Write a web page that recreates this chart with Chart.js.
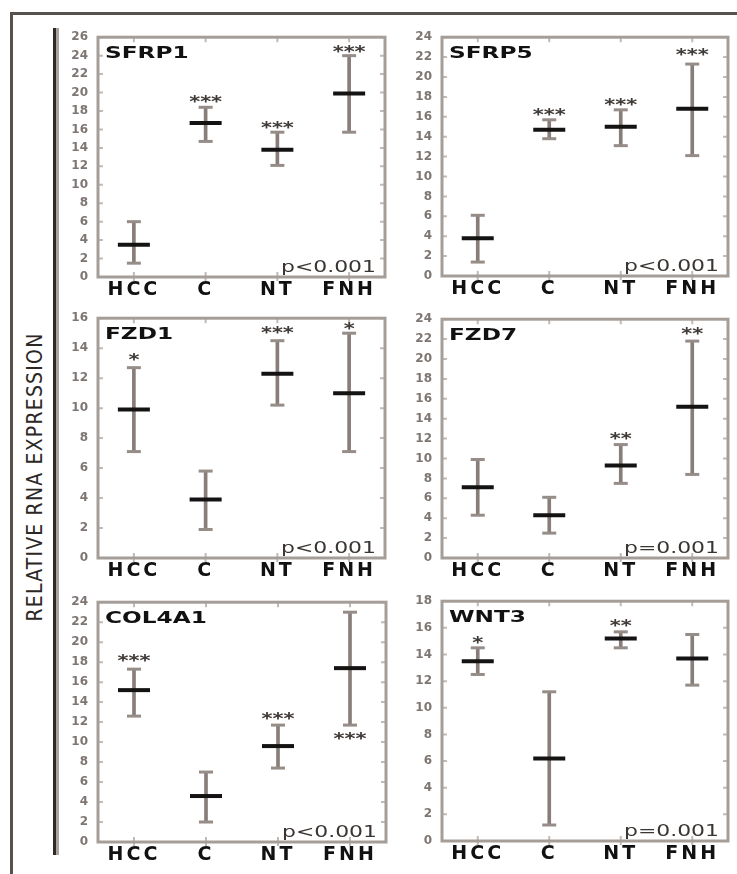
<!DOCTYPE html>
<html>
<head>
<meta charset="utf-8">
<script src="https://cdn.jsdelivr.net/npm/chart.js@4"></script>
<style>
  body { margin: 0; background: #fff; }
  #page { position: relative; width: 737px; height: 874px; overflow: hidden; background: #fff; }
  #page canvas { position: absolute; }
  .rule { position: absolute; background: #58524e; }
  #ylabel {
    position: absolute; left: 35px; top: 477px;
    transform: translate(-50%, -50%) rotate(-90deg);
    white-space: nowrap; font: 21px "DejaVu Sans Condensed", "DejaVu Sans", sans-serif;
    letter-spacing: 1.2px; color: #2c2826;
  }
</style>
</head>
<body>
<div id="page">
  <div class="rule" style="left:10px;top:12px;width:727px;height:3px"></div>
  <div class="rule" style="left:10px;top:12px;width:3px;height:862px"></div>
  <div class="rule" style="left:53px;top:28px;width:3px;height:827px;background:#2e2a28"></div>
  <div class="rule" style="left:56px;top:28px;width:3px;height:827px;background:#aaa29d"></div>
  <div id="ylabel">RELATIVE RNA EXPRESSION</div>
</div>
<script>
// groepen op de x-as
const groups = ['HCC', 'C', 'NT', 'FNH'];

// SFRP1
const sfrp1Mean = [3.5, 16.7, 13.8, 19.9];
const sfrp1Low = [1.5, 14.7, 12.1, 15.7];
const sfrp1High = [6.0, 18.4, 15.7, 24.0];
const sfrp1Stars = ['', '***', '***', '***'];
const sfrp1StarAt = [null, 19.3, 16.5, 24.7];

// SFRP5
const sfrp5Mean = [3.8, 14.7, 15.0, 16.8];
const sfrp5Low = [1.4, 13.8, 13.1, 12.1];
const sfrp5High = [6.1, 15.7, 16.7, 21.3];
const sfrp5Stars = ['', '***', '***', '***'];
const sfrp5StarAt = [null, 16.5, 17.5, 22.5];

// FZD1
const fzd1Mean = [9.9, 3.9, 12.3, 11.0];
const fzd1Low = [7.1, 1.9, 10.2, 7.1];
const fzd1High = [12.7, 5.8, 14.5, 15.0];
const fzd1Stars = ['*', '', '***', '*'];
const fzd1StarAt = [13.4, null, 15.2, 15.5];

// FZD7
const fzd7Mean = [7.1, 4.3, 9.3, 15.2];
const fzd7Low = [4.3, 2.5, 7.5, 8.4];
const fzd7High = [9.9, 6.1, 11.4, 21.8];
const fzd7Stars = ['', '', '**', '**'];
const fzd7StarAt = [null, null, 12.3, 22.8];

// COL4A1
const col4a1Mean = [15.2, 4.6, 9.6, 17.4];
const col4a1Low = [12.6, 2.0, 7.4, 11.7];
const col4a1High = [17.3, 7.0, 11.7, 23.0];
const col4a1Stars = ['***', '', '***', '***'];
const col4a1StarAt = [18.4, null, 12.6, 10.6];

// WNT3
const wnt3Mean = [13.5, 6.2, 15.2, 13.7];
const wnt3Low = [12.5, 1.2, 14.5, 11.7];
const wnt3High = [14.5, 11.2, 15.7, 15.5];
const wnt3Stars = ['*', '', '**', ''];
const wnt3StarAt = [15.1, null, 16.4, null];

const genes = ['SFRP1', 'SFRP5', 'FZD1', 'FZD7', 'COL4A1', 'WNT3'];
const pValues = ['p<0.001', 'p<0.001', 'p<0.001', 'p=0.001', 'p<0.001', 'p=0.001'];
const yMax = [26, 24, 16, 24, 24, 18];

// plotvlak per paneel: links, boven, breedte, hoogte
const boxes = [
    [98, 32, 287, 245], [442, 32, 286, 244],
    [98, 313, 287, 245], [442, 314, 286, 244],
    [98, 597, 288, 245], [442, 596, 286, 245]
];

const series = [
    [sfrp1Mean, sfrp1Low, sfrp1High, sfrp1Stars, sfrp1StarAt],
    [sfrp5Mean, sfrp5Low, sfrp5High, sfrp5Stars, sfrp5StarAt],
    [fzd1Mean, fzd1Low, fzd1High, fzd1Stars, fzd1StarAt],
    [fzd7Mean, fzd7Low, fzd7High, fzd7Stars, fzd7StarAt],
    [col4a1Mean, col4a1Low, col4a1High, col4a1Stars, col4a1StarAt],
    [wnt3Mean, wnt3Low, wnt3High, wnt3Stars, wnt3StarAt]
];

const AXIS_W = 45, AXIS_H = 30, PAD_TOP = 12, PAD_RIGHT = 8;

function wideText(ctx, text, x, y, sx, align) {
    ctx.save();
    ctx.translate(x, y);
    ctx.scale(sx, 1);
    ctx.textAlign = align;
    ctx.fillText(text, 0, 0);
    ctx.restore();
}

// kader, streepjes, titel, p-waarde en sterretjes
const panelDecor = {
    id: 'panelDecor',
    beforeDraw(chart) {
        chart.ctx.letterSpacing = '0px';
    },
    afterDatasetsDraw(chart, args, opts) {
        const { ctx, chartArea: a } = chart;
        const x = chart.scales.x, y = chart.scales.y;
        ctx.save();
        ctx.letterSpacing = '0px';

        ctx.strokeStyle = '#c2bab5';
        ctx.lineWidth = 2;
        y.ticks.forEach(t => {
            const py = y.getPixelForValue(t.value);
            ctx.beginPath();
            ctx.moveTo(a.left, py); ctx.lineTo(a.left + 5, py);
            ctx.moveTo(a.right - 5, py); ctx.lineTo(a.right, py);
            ctx.stroke();
        });
        groups.forEach((g, i) => {
            const px = x.getPixelForValue(i);
            ctx.beginPath();
            ctx.moveTo(px, a.top); ctx.lineTo(px, a.top + 5);
            ctx.moveTo(px, a.bottom - 5); ctx.lineTo(px, a.bottom + 4);
            ctx.stroke();
        });

        ctx.strokeStyle = '#a59d98';
        ctx.lineWidth = 3;
        ctx.strokeRect(a.left, a.top, a.right - a.left, a.bottom - a.top);

        ctx.fillStyle = '#111';
        ctx.font = 'bold 16px "DejaVu Sans"';
        ctx.textBaseline = 'alphabetic';
        wideText(ctx, opts.gene, a.left + 7, a.top + 21, 1.45, 'left');

        ctx.fillStyle = '#3a3532';
        ctx.font = '16px "DejaVu Sans"';
        wideText(ctx, opts.p, a.right - 9, a.bottom - 5, 1.37, 'right');

        ctx.fillStyle = '#3f3a37';
        ctx.font = 'bold 15px "DejaVu Sans"';
        opts.stars.forEach((s, i) => {
            if (!s) return;
            const px = x.getPixelForValue(i);
            const py = y.getPixelForValue(opts.starAt[i]);
            wideText(ctx, s, px, py + 8, 1.4, 'center');
        });
        ctx.restore();

        // x-labels (ticks.z = 1) worden hierna getekend, breder gespatieerd
        ctx.letterSpacing = '3px';
    },
    afterDraw(chart) {
        chart.ctx.letterSpacing = '0px';
    }
};

function makePanel(i) {
    const [left, top, w, h] = boxes[i];
    const [mean, low, high, stars, starAt] = series[i];
    const canvas = document.createElement('canvas');
    canvas.width = w + AXIS_W + PAD_RIGHT;
    canvas.height = h + PAD_TOP + AXIS_H;
    canvas.style.left = (left - AXIS_W) + 'px';
    canvas.style.top = (top - PAD_TOP) + 'px';
    document.getElementById('page').appendChild(canvas);

    new Chart(canvas.getContext('2d'), {
        type: 'bar',
        data: {
            labels: groups,
            datasets: [
                {
                    data: low.map((v, k) => [v, high[k]]),
                    backgroundColor: '#877d79',
                    barThickness: 3,
                    order: 3
                },
                {
                    type: 'line',
                    data: high,
                    showLine: false,
                    pointStyle: 'line',
                    pointRadius: 7,
                    pointBorderWidth: 3,
                    pointBorderColor: '#978d88',
                    clip: false,
                    order: 2
                },
                {
                    type: 'line',
                    data: low,
                    showLine: false,
                    pointStyle: 'line',
                    pointRadius: 7,
                    pointBorderWidth: 3,
                    pointBorderColor: '#978d88',
                    clip: false,
                    order: 2
                },
                {
                    type: 'line',
                    data: mean,
                    showLine: false,
                    pointStyle: 'line',
                    pointRadius: 16,
                    pointBorderWidth: 4,
                    pointBorderColor: '#141212',
                    clip: false,
                    order: 1
                }
            ]
        },
        options: {
            responsive: false,
            animation: false,
            events: [],
            layout: { autoPadding: false, padding: { left: 0, top: PAD_TOP, right: PAD_RIGHT, bottom: 0 } },
            plugins: {
                legend: { display: false },
                tooltip: { enabled: false },
                panelDecor: { gene: genes[i], p: pValues[i], stars: stars, starAt: starAt }
            },
            scales: {
                x: {
                    type: 'category',
                    offset: true,
                    grid: { display: false, drawTicks: false },
                    border: { display: false },
                    ticks: {
                        z: 1,
                        padding: 2,
                        color: '#111',
                        font: { family: 'DejaVu Sans', size: 19, weight: 'bold' }
                    },
                    afterFit(scale) { scale.height = AXIS_H; }
                },
                y: {
                    min: 0,
                    max: yMax[i],
                    grid: { display: false, drawTicks: false },
                    border: { display: false },
                    ticks: {
                        stepSize: 2,
                        padding: 10,
                        color: '#7d7672',
                        font: { family: 'DejaVu Sans', size: 12, weight: 'bold' }
                    },
                    afterFit(scale) { scale.width = AXIS_W; }
                }
            }
        },
        plugins: [panelDecor]
    });
}

genes.forEach((g, i) => makePanel(i));
</script>
</body>
</html>
